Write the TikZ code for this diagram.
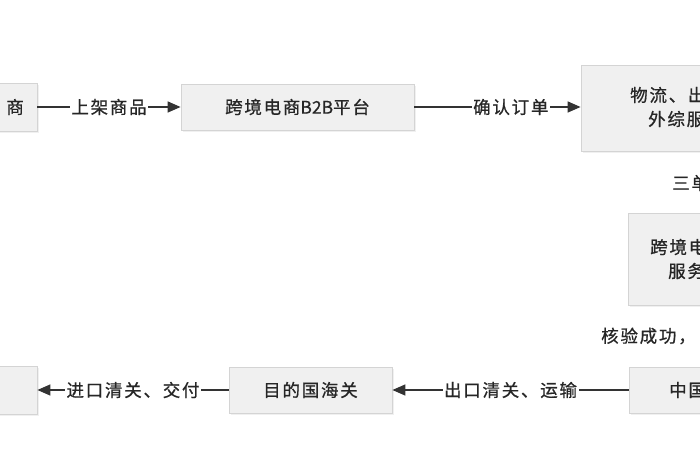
\documentclass[tikz,border=0pt]{standalone}
\usepackage{fontspec}
\setmainfont{Noto Sans CJK SC}
\newfontfamily\cjkfont[LetterSpace=10,FakeBold=0.8]{Noto Sans CJK SC}
\usetikzlibrary{arrows.meta,shadows}
\definecolor{boxfill}{HTML}{F0F0F0}
\definecolor{boxline}{HTML}{D4D4D4}
\definecolor{txtc}{HTML}{262626}
\definecolor{linec}{HTML}{333333}
\begin{document}
\begin{tikzpicture}[x=1pt,y=-1pt,
  box/.style={draw=boxline, fill=boxfill, line width=0.8pt, inner sep=0pt,
    drop shadow={shadow xshift=1.5pt, shadow yshift=-2pt, opacity=0.12}},
  txt/.style={inner sep=0pt, text=txtc, font=\cjkfont\fontsize{17.5pt}{20pt}\selectfont},
  lbl/.style={fill=white, inner sep=1.5pt, text=txtc, font=\cjkfont\fontsize{17.5pt}{20pt}\selectfont},
  conn/.style={draw=linec, line width=1.4pt, -{Triangle[length=13pt,width=11pt]}}]
\useasboundingbox (0,0) rectangle (700,470);
\clip (0,0) rectangle (700,470);
% boxes
\node[box, minimum width=237pt, minimum height=48pt] (A) at (-81.5,107) {};
\node[box, minimum width=233pt, minimum height=46pt] (B) at (297.5,107) {};
\node[box, minimum width=219pt, minimum height=86pt] (C) at (690.5,108) {};
\node[box, minimum width=172pt, minimum height=92pt] (D) at (714,259) {};
\node[box, minimum width=171pt, minimum height=46pt] (E) at (714.5,390) {};
\node[box, minimum width=163pt, minimum height=46pt] (F) at (310.5,390) {};
\node[box, minimum width=237pt, minimum height=48pt] (G) at (-81.5,390) {};
% box texts
\node[txt, anchor=east] (tA) at (24,107) {商};
\node[txt] (tB) at (B.center) {跨境电商{\addfontfeature{LetterSpace=0}B2B}平台};
\node[txt, anchor=west] (tC1) at (630,95) {物流、出};
\node[txt, anchor=west] (tC2) at (648,119) {外综服};
\node[txt, anchor=west] (tD1) at (650,247) {跨境电};
\node[txt, anchor=west] (tD2) at (668,271) {服务};
\node[txt, anchor=west] (tE) at (669,390) {中国};
\node[txt] (tF) at (F.center) {目的国海关};
% free labels
\node[txt, anchor=west] (l3) at (672,183) {三单};
\node[txt, anchor=west] (l4) at (601,336) {核验成功，};
% connectors
\draw[conn] (A.east) -- node[lbl] {上架商品} (B.west);
\draw[conn] (B.east) -- node[lbl, pos=0.58] {确认订单} (B.east -| C.west);
\draw[conn] (E.west) -- node[lbl] {出口清关、运输} (F.east);
\draw[conn] (F.west) -- node[lbl] {进口清关、交付} (G.east);
\end{tikzpicture}
\end{document}
